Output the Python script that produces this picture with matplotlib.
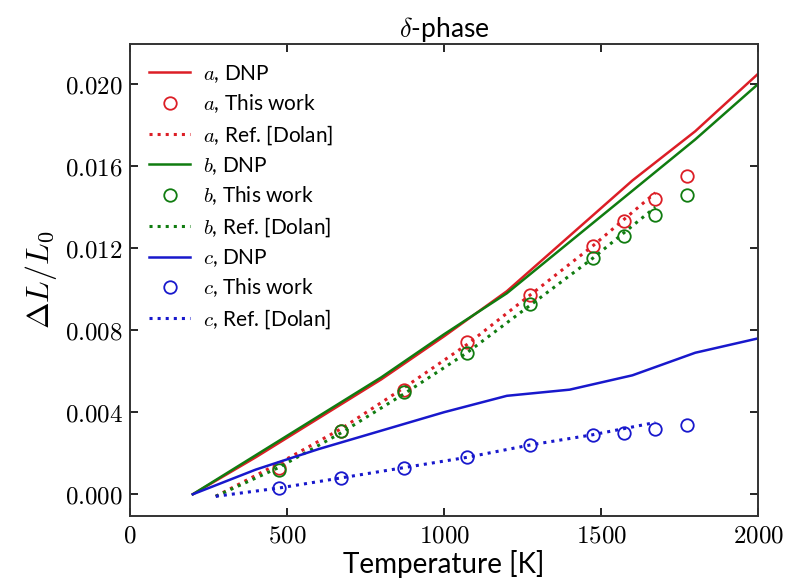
import matplotlib
matplotlib.use('Agg')
import matplotlib.pyplot as plt
from matplotlib.ticker import FuncFormatter, MultipleLocator

plt.rcParams['font.family'] = ['Lato', 'DejaVu Sans']
plt.rcParams['mathtext.fontset'] = 'cm'

# DNP curves
T_dnp = [200, 400, 600, 800, 1000, 1200, 1400, 1600, 1800, 2000]
a_dnp = [0.0, 0.0018, 0.0037, 0.0056, 0.0077, 0.0099, 0.0126, 0.0153, 0.0177, 0.0205]
b_dnp = [0.0, 0.0019, 0.0038, 0.0057, 0.0078, 0.0098, 0.0123, 0.0148, 0.0173, 0.0200]
c_dnp = [0.0, 0.0012, 0.0022, 0.0031, 0.0040, 0.0048, 0.0051, 0.0058, 0.0069, 0.0076]

# this work (circles)
T_work = [473, 673, 873, 1073, 1273, 1473, 1573, 1673, 1773]
a_work = [0.0013, 0.0031, 0.0051, 0.0074, 0.0097, 0.0121, 0.0133, 0.0144, 0.0155]
b_work = [0.0012, 0.0031, 0.0050, 0.0069, 0.0093, 0.0115, 0.0126, 0.0136, 0.0146]
c_work = [0.0003, 0.0008, 0.0013, 0.0018, 0.0024, 0.0029, 0.0030, 0.0032, 0.0034]

# Dolan reference (dotted)
T_ref = [273, 473, 673, 873, 1073, 1273, 1473, 1673]
a_ref = [-0.0001, 0.0015, 0.0032, 0.0052, 0.0073, 0.0097, 0.0121, 0.0147]
b_ref = [-0.0001, 0.0013, 0.0030, 0.0049, 0.0069, 0.0092, 0.0115, 0.0140]
c_ref = [-0.0001, 0.0003, 0.0008, 0.0013, 0.0018, 0.0024, 0.0029, 0.0035]

red = '#dc1e26'
green = '#107c10'
blue = '#1818cc'

fig = plt.figure(figsize=(7.88, 5.80), dpi=100)
ax = fig.add_axes([0.165, 0.110, 0.797, 0.814])

for name, col, dnp, work, ref in [('a', red, a_dnp, a_work, a_ref),
                                  ('b', green, b_dnp, b_work, b_ref),
                                  ('c', blue, c_dnp, c_work, c_ref)]:
    ax.plot(T_dnp, dnp, '-', color=col, lw=1.8, label='$' + name + '$, DNP')
    ax.plot(T_work, work, 'o', color=col, mfc='none', ms=9, mew=1.3,
            label='$' + name + '$, This work')
    ax.plot(T_ref, ref, ':', color=col, lw=2.2, label='$' + name + '$, Ref. [Dolan]')

ax.set_xlim(0, 2000)
ax.set_ylim(-0.00107, 0.02195)
ax.xaxis.set_major_locator(MultipleLocator(500))
ax.yaxis.set_major_locator(MultipleLocator(0.004))
ax.xaxis.set_major_formatter(FuncFormatter(lambda v, p: '$%d$' % v))
ax.yaxis.set_major_formatter(FuncFormatter(lambda v, p: '$%.3f$' % v))
ax.tick_params(direction='in', top=True, right=True, length=6, width=1.2,
               labelsize=18, pad=5)
for s in ax.spines.values():
    s.set_linewidth(1.4)
    s.set_color('#333333')

ax.set_xlabel('Temperature [K]', fontsize=20, labelpad=3)
ax.set_ylabel(r'$\Delta L/L_0$', fontsize=23, labelpad=4)
ax.set_title(r'$\delta$-phase', fontsize=19, pad=5)

ax.legend(loc='upper left', frameon=False, fontsize=15, numpoints=1,
          handlelength=2.0, labelspacing=0.38, borderaxespad=0.5,
          handletextpad=0.6)

fig.savefig('out.png', dpi=100)
